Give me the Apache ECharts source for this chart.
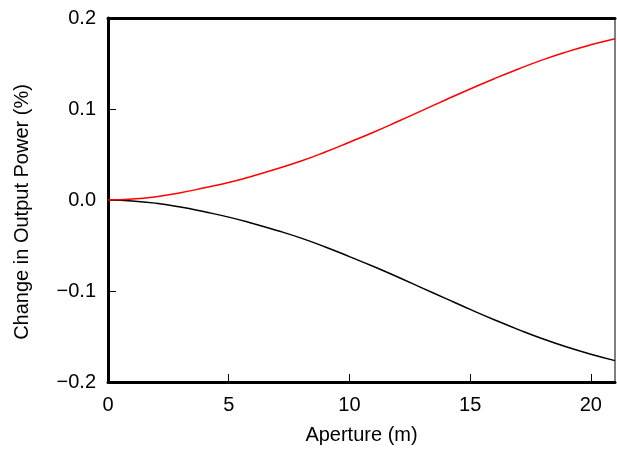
<!DOCTYPE html>
<html>
<head>
<meta charset="utf-8">
<script src="https://cdn.jsdelivr.net/npm/echarts@6/dist/echarts.min.js"></script>
<style>
  html, body { margin: 0; padding: 0; background: #fff; }
  #chart { width: 617px; height: 450px; }
</style>
</head>
<body>
<div id="chart"></div>
<script>
// aperture (m)
const aperture = [0, 1, 2, 3, 4, 5, 6, 7, 8, 9, 10, 11, 12, 13, 14, 15, 16, 17, 18, 19, 20, 21];
// change in output power (%), upper (red) and lower (black) curves
const upperChange = [0, 0.001, 0.0037, 0.0079, 0.0134, 0.0193, 0.0264, 0.0343, 0.0428, 0.0527, 0.0635,
  0.0745, 0.0862, 0.0982, 0.1102, 0.122, 0.1333, 0.144, 0.154, 0.1628, 0.1705, 0.1772];
const lowerChange = [0, -0.001, -0.0036, -0.0077, -0.013, -0.0188, -0.0258, -0.0335, -0.0419, -0.0516, -0.0622,
  -0.0731, -0.0846, -0.0965, -0.1084, -0.1202, -0.1316, -0.1424, -0.1525, -0.1615, -0.1695, -0.1765];

const font = 'Liberation Sans, Arial, Helvetica, sans-serif';

const chart = echarts.init(document.getElementById('chart'), null, { renderer: 'canvas' });

const pairs = (ys) => aperture.map((x, i) => [x, ys[i]]);

chart.setOption({
  animation: false,
  backgroundColor: '#fff',
  grid: {
    left: 108, right: 2, top: 18, bottom: 67,
    show: true, borderColor: '#000', borderWidth: 1
  },
  xAxis: [
    {
      type: 'value', min: 0, max: 21, interval: 5,
      name: 'Aperture (m)', nameLocation: 'middle', nameGap: 43,
      nameTextStyle: { fontFamily: font, fontSize: 20, color: '#000' },
      axisLine: { show: true, onZero: false, lineStyle: { color: '#000', width: 3 } },
      axisTick: { show: true, inside: true, length: 8, lineStyle: { color: '#000', width: 1 } },
      axisLabel: { fontFamily: font, fontSize: 20, color: '#000', margin: 13, showMaxLabel: false },
      splitLine: { show: false }
    },
    {
      type: 'value', min: 0, max: 21, position: 'top',
      axisLine: { show: true, onZero: false, lineStyle: { color: '#000', width: 3 } },
      axisTick: { show: false }, axisLabel: { show: false }, splitLine: { show: false }
    }
  ],
  yAxis: {
    type: 'value', min: -0.2, max: 0.2, interval: 0.1,
    name: 'Change in Output Power (%)', nameLocation: 'middle', nameGap: 76,
    nameTextStyle: { fontFamily: font, fontSize: 20, color: '#000', padding: [0, 24, 0, 0] },
    axisLine: { show: true, onZero: false, lineStyle: { color: '#000', width: 3 } },
    axisTick: { show: true, inside: true, length: 8, lineStyle: { color: '#000', width: 1 } },
    axisLabel: {
      fontFamily: font, fontSize: 20, color: '#000', margin: 12,
      formatter: (v) => {
        const s = Math.abs(v).toFixed(1);
        return v < -1e-9 ? '\u2212' + s : s;
      }
    },
    splitLine: { show: false }
  },
  series: [
    {
      type: 'line', data: pairs(upperChange), smooth: true,
      showSymbol: false, lineStyle: { color: '#ff0000', width: 1.5 }, z: 3
    },
    {
      type: 'line', data: pairs(lowerChange), smooth: true,
      showSymbol: false, lineStyle: { color: '#000', width: 1.5 }, z: 2
    }
  ]
});
</script>
</body>
</html>
